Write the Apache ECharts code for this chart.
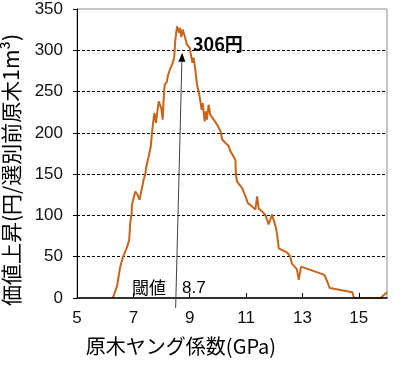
<!DOCTYPE html>
<html>
<head>
<meta charset="utf-8">
<script src="https://cdn.jsdelivr.net/npm/echarts@6/dist/echarts.min.js"></script>
<style>
html,body{margin:0;padding:0;background:#fff;}
#chart{width:404px;height:371px;}
</style>
</head>
<body>
<div id="chart"></div>
<script>
// Young's modulus of logs (GPa)
const modulus = [6.27,6.42,6.53,6.62,6.77,6.85,6.89,6.94,6.95,7.07,7.15,7.22,7.28,7.34,7.36,7.42,7.46,7.54,7.62,7.66,7.72,7.75,7.80,7.90,7.99,8.04,8.07,8.11,8.19,8.23,8.31,8.39,8.45,8.49,8.55,8.58,8.63,8.66,8.70,8.75,8.81,8.84,8.90,9.00,9.05,9.10,9.14,9.20,9.26,9.33,9.38,9.42,9.46,9.53,9.57,9.61,9.67,9.73,9.85,9.97,10.09,10.15,10.26,10.38,10.44,10.56,10.62,10.64,10.68,10.86,10.98,11.06,11.21,11.33,11.39,11.45,11.57,11.69,11.75,11.80,11.86,11.92,11.98,12.06,12.10,12.16,12.22,12.46,12.57,12.62,12.80,12.87,12.95,13.78,13.88,13.97,14.77,14.83,15.77,16.0];
// value increase (yen per m3 of log before sorting)
const valueGain = [0,14,37,49,61,70,91,103,113,129,125,119,129,139,143,149,159,171,184,200,218,224,212,238,230,216,238,258,262,270,278,284,292,313,329,331,321,327,316,325,323,315,307,303,293,285,291,276,258,248,238,228,236,214,226,216,234,222,216,210,202,192,188,184,178,171,167,149,141,133,123,115,111,107,123,108,105,100,94,89,87,101,100,85,77,60,58,55,50,42,35,22,38,28,20,12,7,0,0,7];
const xTickValues = [5,7,9,11,13,15];
const yTickValues = [0,50,100,150,200,250,300,350];
const arrowBase = [8.5, -12];
const arrowTip = [8.73, 297];
const peakLabel = '306円';
const thresholdWord = '閾値';
const thresholdValue = '8.7';

const seriesData = modulus.map((x, i) => [x, valueGain[i]]);
const chart = echarts.init(document.getElementById('chart'));
const numFont = 'Liberation Sans, Arial, sans-serif';
const cjkFont = 'Noto Sans CJK JP, sans-serif';

chart.setOption({
  backgroundColor: '#fff',
  animation: false,
  grid: {left: 77, right: 17, top: 9, bottom: 73, show: true, borderColor: '#8c8c8c', borderWidth: 1, containLabel: false},
  xAxis: {
    type: 'value', min: 5, max: 16, interval: 2, z: 5,
    axisLine: {show: true, onZero: false, lineStyle: {color: '#000', width: 1.5}},
    axisTick: {show: true, inside: true, length: 5, lineStyle: {color: '#000'}},
    axisLabel: {show: true, margin: 12, fontSize: 17, fontFamily: numFont, color: '#111',
      showMaxLabel: false,
      formatter: v => xTickValues.includes(v) ? String(v) : ''},
    splitLine: {show: false}
  },
  yAxis: {
    type: 'value', min: 0, max: 350, interval: 50,
    axisLine: {show: true, lineStyle: {color: '#000', width: 1}},
    axisTick: {show: true, inside: false, length: 4, lineStyle: {color: '#000'}},
    axisLabel: {margin: 14, fontSize: 17, fontFamily: numFont, color: '#111',
      formatter: v => yTickValues.includes(v) ? String(v) : ''},
    splitLine: {show: true, showMinLine: false, showMaxLine: false, lineStyle: {color: '#000', type: [3, 2], width: 1}}
  },
  series: [{
    type: 'line', data: seriesData, symbol: 'none', smooth: false,
    lineStyle: {color: '#C8651B', width: 2}, z: 3
  }]
});

function drawOverlay() {
  const b = chart.convertToPixel({gridIndex: 0}, arrowBase);
  const t = chart.convertToPixel({gridIndex: 0}, arrowTip);
  const dx = t[0] - b[0], dy = t[1] - b[1];
  const len = Math.sqrt(dx * dx + dy * dy);
  const ux = dx / len, uy = dy / len;
  const headLen = 9, headHalf = 3.5;
  const bx = t[0] - ux * headLen, by = t[1] - uy * headLen;
  const px = -uy, py = ux;
  chart.setOption({
    graphic: [
      {type: 'line', shape: {x1: b[0], y1: b[1], x2: bx, y2: by}, style: {stroke: '#404040', lineWidth: 1}, z: 10},
      {type: 'polygon', shape: {points: [[t[0], t[1]], [bx + px * headHalf, by + py * headHalf], [bx - px * headHalf, by - py * headHalf]]}, style: {fill: '#000'}, z: 11},
      {type: 'text', left: 193, top: 35, style: {text: peakLabel, font: 'bold 18px ' + cjkFont, fill: '#000'}, z: 12},
      {type: 'text', left: 132, top: 279, style: {text: thresholdWord, font: '17px ' + cjkFont, fill: '#000'}, z: 12},
      {type: 'text', left: 182, top: 280, style: {text: thresholdValue, font: '17px ' + numFont, fill: '#000'}, z: 12},
      {type: 'text', x: 181, y: 346, style: {text: '原木ヤング係数(GPa)', font: '20px ' + cjkFont, fill: '#000', align: 'center', verticalAlign: 'middle'}, z: 12},
      {type: 'text', x: 11, y: 170, rotation: Math.PI / 2, style: {text: '価値上昇(円/選別前原木1m³)', font: '21px ' + cjkFont, fill: '#000', align: 'center', verticalAlign: 'middle'}, z: 12}
    ]
  });
}
drawOverlay();
</script>
</body>
</html>
